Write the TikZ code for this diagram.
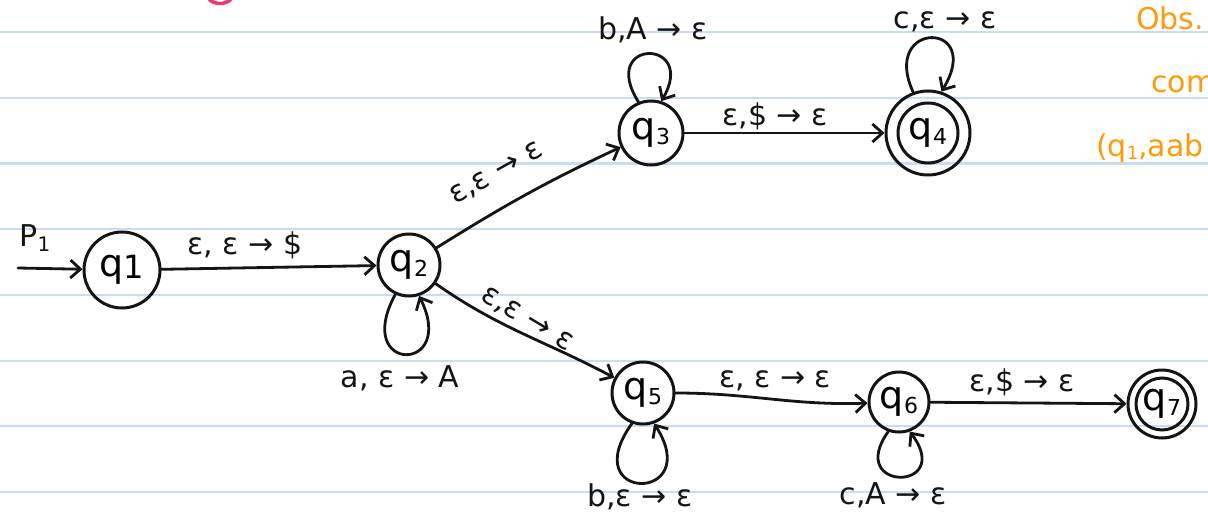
\documentclass[tikz,border=0pt]{standalone}
\usepackage{fontspec}
\setmainfont{DejaVu Sans}
\usetikzlibrary{arrows.meta}
\definecolor{ruled}{HTML}{C8DCF6}
\definecolor{ink}{HTML}{141414}
\definecolor{note}{HTML}{FF9A0A}
\definecolor{pinkmark}{HTML}{F0386B}
\newcommand\qsub[1]{q\raisebox{-5pt}{\fontsize{22}{22}\selectfont #1}}
\begin{document}
\begin{tikzpicture}[x=1pt,y=1pt,
  >={Straight Barb[length=10pt,width=18pt]},
  ruledline/.style={ruled, line width=2.6pt},
  state/.style={circle, draw=ink, line width=3pt, inner sep=0pt, font=\fontsize{38}{38}\selectfont},
  ring/.style={draw=ink, line width=3pt},
  trans/.style={draw=ink, line width=2.8pt, line cap=round, ->},
  lbl/.style={font=\fontsize{30}{32}\selectfont, inner sep=1pt, text=ink},
  notetext/.style={font=\fontsize{30}{32}\selectfont, text=note, anchor=west, inner sep=0pt}
]
\useasboundingbox (0,0) rectangle (1208,-524);
\fill[white] (0,0) rectangle (1208,-524);
\foreach \yy in {32,98,163.5,229,295,361,426,492} \draw[ruledline] (0,-\yy) -- (1208,-\yy);

% pink marks at top
\draw[pinkmark, line width=3pt, line cap=round] (170,1) -- (179,1);
\draw[pinkmark, line width=3.5pt, line cap=round] (209,1) .. controls (214,-5) and (226,-5) .. (231,1);

% orange notes (cut off at the right edge)
\node[notetext] (n1) at (1136,-18) {Obs.};
\node[notetext] (n2) at (1151,-84) {com};
\node[notetext] (n3) at (1096,-148) {(q\raisebox{-3pt}{\fontsize{18}{18}\selectfont 1},aab};

% states
\node[state, minimum size=76pt] (q1) at (122,-270) {q\raisebox{-2pt}{\fontsize{32}{32}\selectfont 1}};
\node[state, minimum size=62pt] (q2) at (409,-265) {\qsub{2}};
\node[state, minimum size=64pt] (q3) at (651,-133) {\qsub{3}};
\node[state, minimum size=84pt] (q4) at (928,-133) {\qsub{4}};
\draw[ring] (q4.center) circle (30pt);
\node[state, minimum size=62pt] (q5) at (643,-393) {\qsub{5}};
\node[state, minimum size=60pt] (q6) at (899,-402) {\qsub{6}};
\node[state, minimum size=68pt] (q7) at (1162,-404) {\qsub{7}};
\draw[ring] (q7.center) circle (26pt);

% start
\coordinate (s) at (18,-268);
\node[lbl] (p1) at (35,-238) {P\raisebox{-5pt}{\fontsize{20}{20}\selectfont 1}};
\draw[trans] (s) -- (q1);

% transitions
\draw[trans] (q1) -- (q2);
\draw[trans] (q2) to[out=32,in=205] (q3);
\draw[trans] (q2) to[out=-35,in=152] (q5);
\draw[trans] (q3) -- (q4);
\draw[trans] (q5) to[out=0,in=182] (q6);
\draw[trans] (q6) -- (q7);

% loops
\draw[trans] (q2.245) .. controls (352,-374) and (458,-374) .. (q2.288);
\draw[trans] (q3.112) .. controls (598,-38) and (698,-38) .. (q3.72);
\draw[trans] (q4.110) .. controls (880,-20) and (985,-20) .. (q4.72);
\draw[trans] (q5.250) .. controls (575,-503) and (705,-503) .. (q5.290);
\draw[trans] (q6.250) .. controls (845,-492) and (955,-492) .. (q6.290);

% labels
\node[lbl] (l12) at (245,-245) {ε, ε → \$};
\node[lbl] (l22) at (400,-378) {a, ε → A};
\node[lbl, rotate=29] (l23) at (497,-174) {ε,ε → ε};
\node[lbl, rotate=-31] (l25) at (527,-320) {ε,ε → ε};
\node[lbl] (l33) at (653,-30) {b,A → ε};
\node[lbl] (l34) at (775,-116) {ε,\$ → ε};
\node[lbl] (l44) at (945,-22) {c,ε → ε};
\node[lbl] (l55) at (640,-497) {b,ε → ε};
\node[lbl] (l56) at (775,-381) {ε, ε → ε};
\node[lbl] (l66) at (893,-495) {c,A → ε};
\node[lbl] (l67) at (1022,-382) {ε,\$ → ε};
\end{tikzpicture}
\end{document}
